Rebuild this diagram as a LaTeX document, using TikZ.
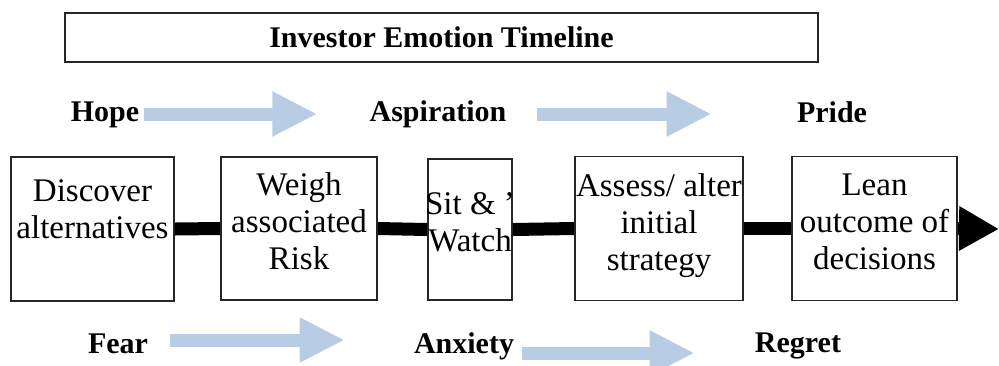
\documentclass[tikz,border=0pt]{standalone}
\usepackage{fontspec}
\setmainfont{LiberationSerif-Regular.ttf}[BoldFont=LiberationSerif-Bold.ttf]
\usetikzlibrary{arrows.meta}
\definecolor{moodblue}{RGB}{184,204,228}
\tikzset{
  stepbox/.style={draw=black!85,line width=0.9pt,inner sep=0pt},
  steptext/.style={anchor=north,align=center,inner sep=0pt,font=\fontsize{16.5}{18.5}\selectfont},
  mood/.style={anchor=base,font=\bfseries\fontsize{15}{17}\selectfont,inner sep=0pt},
  moodarrow/.style={moodblue,line width=6.5pt,-{Triangle[length=22.5pt,width=21pt]}},
  timeline/.style={line width=6.5pt}
}

\begin{document}
\begin{tikzpicture}[x=0.5pt,y=-0.5pt]
			%%%%% START %%%%%
			\useasboundingbox (0,0) rectangle (999,365);
			
			\node[stepbox,minimum width=376.5pt,minimum height=24.5pt,font=\bfseries\fontsize{15}{17}\selectfont] (title) at (441.5,37.5) {Investor Emotion Timeline};
			
			\node[mood] (hope) at (105,121) {Hope};
			\node[mood] (asp) at (438,121) {Aspiration};
			\node[mood] (pride) at (832,122) {Pride};
			
			\node[stepbox,minimum width=81.5pt,minimum height=72pt] (b1) at (92.5,229) {};
			\node[stepbox,minimum width=78pt,minimum height=71.5pt] (b2) at (299,228.5) {};
			\node[stepbox,minimum width=42pt,minimum height=70.5pt] (b3) at (470,229.5) {};
			\node[stepbox,minimum width=84pt,minimum height=72pt] (b4) at (659,228.5) {};
			\node[stepbox,minimum width=82.5pt,minimum height=72pt] (b5) at (874.5,228.5) {};
			
			\node[steptext] (t1) at ([yshift=-11.5pt]b1.north) {Discover\\alternatives};
			\node[steptext] (t2) at ([yshift=-8pt]b2.north) {Weigh\\associated\\Risk};
			\node[steptext] (t3) at ([yshift=-17pt]b3.north) {Sit \& '\\Watch};
			\node[steptext] (t4) at ([yshift=-9pt]b4.north) {Assess/ alter\\initial\\strategy};
			\node[steptext] (t5) at ([yshift=-9pt]b5.north) {Lean\\outcome of\\decisions};
			
			\coordinate (tipend) at (999,229);
			\draw[timeline] (b1.east) -- (b2.west);
			\draw[timeline] (b2.east) -- (b3.west);
			\draw[timeline] (b3.east) -- (b4.west);
			\draw[timeline] (b4.east) -- (b5.west);
			\draw[timeline,-{Triangle[length=20pt,width=21pt]}] (b5.east) -- (tipend);
			
			\node[mood] (fear) at (118,353) {Fear};
			\node[mood] (anx) at (464,353) {Anxiety};
			\node[mood] (regret) at (798,352) {Regret};
			
			\draw[moodarrow] ([xshift=2pt,yshift=3.5pt]hope.base east) -- ([xshift=-26pt,yshift=3.5pt]asp.base west);
			\draw[moodarrow] ([xshift=15pt,yshift=3.5pt]asp.base east) -- ([xshift=-42.5pt,yshift=4pt]pride.base west);
			\draw[moodarrow] ([xshift=11pt,yshift=6.5pt]fear.base east) -- ([xshift=-34.5pt,yshift=6.5pt]anx.base west);
			\draw[moodarrow] ([xshift=4pt]anx.base east) -- ([xshift=-30pt,yshift=-0.5pt]regret.base west);
			%%%%% END %%%%%
\end{tikzpicture}
\end{document}
